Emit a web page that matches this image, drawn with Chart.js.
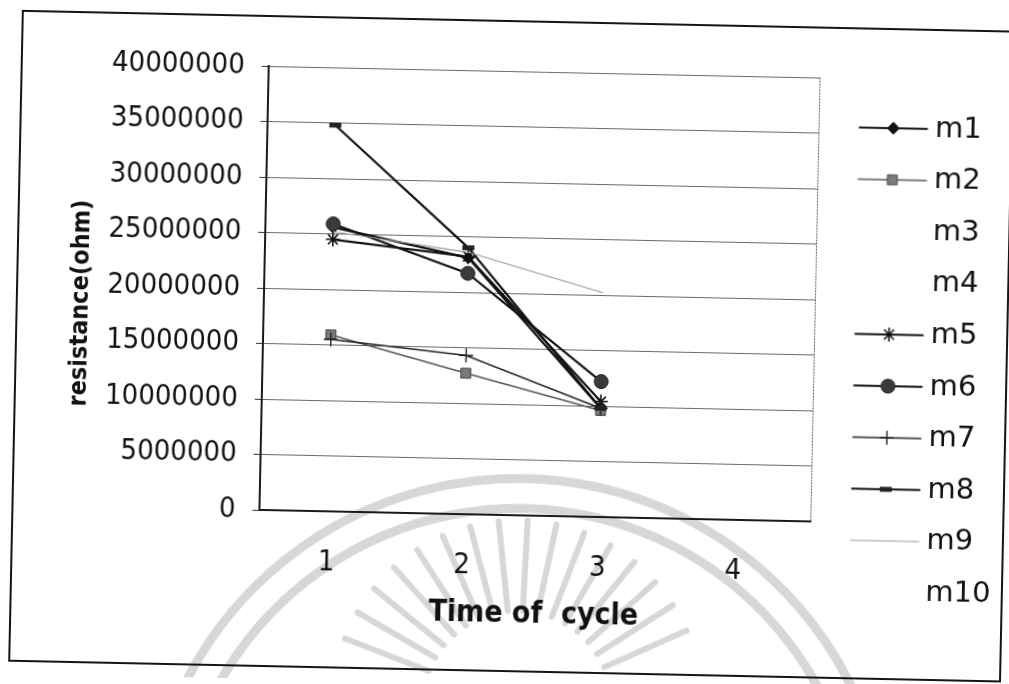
<!DOCTYPE html>
<html>
<head>
<meta charset="utf-8">
<script src="https://cdn.jsdelivr.net/npm/chart.js@4/dist/chart.umd.min.js"></script>
<style>
  html, body { margin: 0; padding: 0; background: #fff; overflow: hidden; }
  #wrap { position: absolute; left: 0; top: 0; width: 1009px; height: 684px;
          transform: rotate(1.2deg); transform-origin: 504px 342px; }
  canvas { display: block; }
</style>
</head>
<body>
<div id="wrap"><canvas id="c" width="1009" height="684"></canvas></div>
<script>
// Cycle numbers on the horizontal axis
const cycles = [1, 2, 3, 4];
const cycleLabels = ['1', '2', '3', '4'];
// Resistance axis ticks (ohm)
const yTickValues = [0, 5000000, 10000000, 15000000, 20000000, 25000000, 30000000, 35000000, 40000000];

// Resistance (ohm) per sample, cycles 1..3
const m1 = [25600000, 23100000, 9800000];
const m2 = [15900000, 12700000, 9600000];
const m3 = [];
const m4 = [];
const m5 = [24500000, 23200000, 10400000];
const m6 = [25900000, 21700000, 12200000];
const m7 = [15500000, 14300000, 9800000];
const m8 = [34800000, 24000000, 9800000];
const m9 = [25200000, 23600000, 20200000];
const m10 = [];

const seriesNames = ['m1', 'm2', 'm3', 'm4', 'm5', 'm6', 'm7', 'm8', 'm9', 'm10'];
const seriesValues = [m1, m2, m3, m4, m5, m6, m7, m8, m9, m10];

const FONT = "'DejaVu Sans Condensed', 'DejaVu Sans', sans-serif";
const LEGEND_FONT = "'DejaVu Sans', sans-serif";

// Line / marker look of each series
const looks = [
  { line: '#111', width: 2.2, marker: 'rectRot', r: 6, fill: '#111', stroke: '#111', bw: 1 },
  { line: '#555', width: 1.5, marker: 'rect', r: 7, fill: '#7a7a7a', stroke: '#444', bw: 1 },
  { line: null },
  { line: null },
  { line: '#111', width: 2.2, marker: 'star', r: 7, fill: '#111', stroke: '#111', bw: 1.6 },
  { line: '#111', width: 2.2, marker: 'circle', r: 7, fill: '#3a3a3a', stroke: '#222', bw: 1 },
  { line: '#222', width: 1.4, marker: 'cross', r: 7, fill: '#222', stroke: '#222', bw: 1.4 },
  { line: '#111', width: 2.2, marker: 'line', r: 6, fill: '#222', stroke: '#222', bw: 5 },
  { line: '#9a9a9a', width: 1.2, marker: null },
  { line: null }
];

function drawMarker(g, lk, x, y) {
  if (!lk.marker) return;
  const r = lk.r;
  g.save();
  g.fillStyle = lk.fill; g.strokeStyle = lk.stroke; g.lineWidth = lk.bw;
  g.beginPath();
  switch (lk.marker) {
    case 'rectRot':
      g.moveTo(x, y - r); g.lineTo(x + r, y); g.lineTo(x, y + r); g.lineTo(x - r, y); g.closePath();
      g.fill(); g.stroke(); break;
    case 'rect': {
      const s = r * Math.SQRT1_2;
      g.rect(x - s, y - s, 2 * s, 2 * s); g.fill(); g.stroke(); break;
    }
    case 'circle':
      g.arc(x, y, r, 0, Math.PI * 2); g.fill(); g.stroke(); break;
    case 'star': {
      const d = r * Math.SQRT1_2;
      g.moveTo(x - r, y); g.lineTo(x + r, y); g.moveTo(x, y - r); g.lineTo(x, y + r);
      g.moveTo(x - d, y - d); g.lineTo(x + d, y + d); g.moveTo(x - d, y + d); g.lineTo(x + d, y - d);
      g.stroke(); break;
    }
    case 'cross':
      g.moveTo(x, y - r); g.lineTo(x, y + r); g.moveTo(x - r, y); g.lineTo(x + r, y);
      g.stroke(); break;
    case 'line':
      g.moveTo(x - r, y); g.lineTo(x + r, y); g.stroke(); break;
  }
  g.restore();
}

// Legend key: short line with the series marker in its middle
function makeKey(lk) {
  const cv = document.createElement('canvas');
  cv.width = 100; cv.height = 24;
  const g = cv.getContext('2d');
  if (lk.line) {
    g.strokeStyle = lk.line; g.lineWidth = lk.width;
    g.beginPath(); g.moveTo(27.5, 12); g.lineTo(96.5, 12); g.stroke();
  }
  drawMarker(g, lk, 62, 12);
  return cv;
}
const keys = looks.map(makeKey);

const datasets = seriesNames.map((name, i) => {
  const lk = looks[i];
  return {
    label: name,
    data: seriesValues[i].map((v, k) => ({ x: cycles[k], y: v })),
    borderColor: lk.line || 'rgba(0,0,0,0)',
    borderWidth: lk.line ? lk.width : 0,
    pointStyle: lk.marker || 'circle',
    pointRadius: lk.marker ? lk.r : 0,
    pointBackgroundColor: lk.fill || 'rgba(0,0,0,0)',
    pointBorderColor: lk.stroke || 'rgba(0,0,0,0)',
    pointBorderWidth: lk.bw || 1,
    tension: 0,
    fill: false,
    order: seriesNames.length - i
  };
});

// Outer frame of the chart
const frame = {
  id: 'frame',
  afterDraw(chart) {
    const g = chart.ctx;
    g.save();
    g.strokeStyle = '#151515'; g.lineWidth = 2;
    g.strokeRect(16, 21, 991, 650);
    g.restore();
  }
};

// Dotted right edge of the plot area
const plotEdge = {
  id: 'plotEdge',
  beforeDatasetsDraw(chart) {
    const a = chart.chartArea, g = chart.ctx;
    g.save();
    g.strokeStyle = 'rgba(70,70,70,0.85)'; g.lineWidth = 1; g.setLineDash([2, 1]);
    g.beginPath(); g.moveTo(a.right - 0.5, a.top); g.lineTo(a.right - 0.5, a.bottom); g.stroke();
    g.restore();
  }
};

// Vertical title of the resistance axis, sitting a little below the plot middle
const yTitle = {
  id: 'yTitle',
  afterDraw(chart) {
    const g = chart.ctx;
    g.save();
    g.translate(80, 312);
    g.rotate(-Math.PI / 2);
    g.font = "bold 25px " + FONT;
    g.fillStyle = '#111';
    g.textAlign = 'center';
    g.textBaseline = 'middle';
    g.fillText('resistance(ohm)', 0, 0);
    g.restore();
  }
};

// Faint seal printed across the lower part of the page
const seal = {
  id: 'seal',
  beforeDraw(chart) {
    const g = chart.ctx;
    g.save();
    g.strokeStyle = 'rgba(150,150,150,0.38)';
    g.lineCap = 'round';
    g.lineWidth = 9;
    g.beginPath(); g.arc(528, 850, 372, Math.PI * 1.03, Math.PI * 1.97); g.stroke();
    g.beginPath(); g.arc(528, 850, 342, Math.PI * 1.05, Math.PI * 1.95); g.stroke();
    g.lineWidth = 6;
    for (let a = 200; a <= 340; a += 9) {
      const t = a * Math.PI / 180;
      g.beginPath();
      g.moveTo(525 + Math.cos(t) * 95, 705 + Math.sin(t) * 95);
      g.lineTo(525 + Math.cos(t) * 185, 705 + Math.sin(t) * 185);
      g.stroke();
    }
    g.restore();
  }
};

new Chart(document.getElementById('c'), {
  type: 'line',
  data: { datasets },
  options: {
    responsive: false,
    animation: false,
    events: [],
    devicePixelRatio: 1,
    layout: { padding: { left: 40, right: 3.3, top: 71, bottom: 44 } },
    plugins: {
      tooltip: { enabled: false },
      legend: {
        position: 'right',
        align: 'start',
        title: { display: true, text: '', font: { size: 10 }, padding: 0 },
        labels: {
          usePointStyle: true,
          pointStyleWidth: 78.5,
          padding: 22.6,
          color: '#111',
          font: { family: LEGEND_FONT, size: 29 },
          generateLabels: chart => chart.data.datasets.map((ds, i) => ({
            text: ds.label,
            pointStyle: keys[i],
            datasetIndex: i,
            hidden: false,
            lineWidth: 0,
            fillStyle: 'rgba(0,0,0,0)',
            strokeStyle: 'rgba(0,0,0,0)',
            fontColor: '#111'
          }))
        }
      }
    },
    scales: {
      x: {
        type: 'linear',
        min: 0.5,
        max: 4.57,
        afterBuildTicks: s => { s.ticks = cycles.map(v => ({ value: v })); },
        afterFit: s => { s.height = 125; },
        ticks: {
          callback: v => cycleLabels[cycles.indexOf(v)],
          font: { family: FONT, size: 29 },
          color: '#111',
          padding: 34,
          autoSkip: false,
          maxRotation: 0
        },
        grid: { display: false, drawTicks: false },
        border: { display: true, color: '#1a1a1a', width: 2 },
        title: {
          display: true,
          text: 'Time of  cycle',
          font: { family: FONT, size: 30, weight: 'bold' },
          color: '#111',
          padding: { top: 0, bottom: 7.6 }
        }
      },
      y: {
        min: 0,
        max: 40000000,
        afterBuildTicks: s => { s.ticks = yTickValues.map(v => ({ value: v })); },
        afterFit: s => { s.width = 223; },
        ticks: {
          callback: v => String(v),
          font: { family: FONT, size: 29 },
          color: '#111',
          padding: 17
        },
        grid: { color: 'rgba(70,70,70,0.8)', lineWidth: 1, drawTicks: true, tickLength: 7, tickColor: '#333' },
        border: { display: true, color: '#1a1a1a', width: 2 },
        title: { display: false }
      }
    }
  },
  plugins: [seal, plotEdge, yTitle, frame]
});
</script>
</body>
</html>
